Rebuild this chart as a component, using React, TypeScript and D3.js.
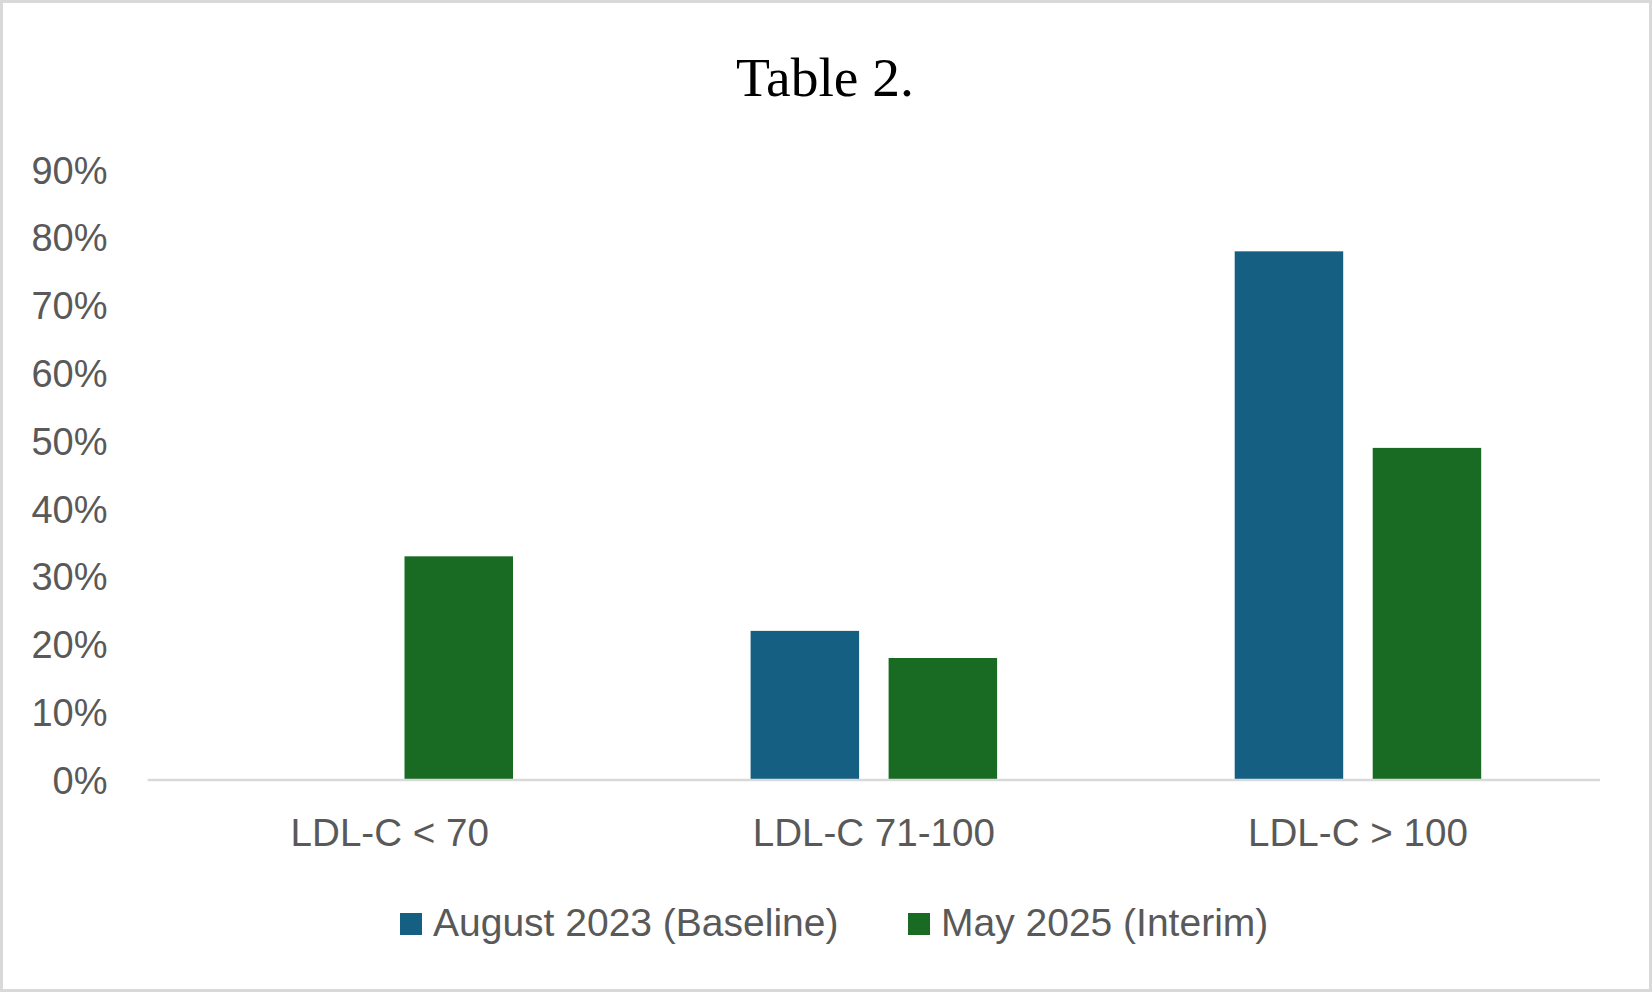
import React, { useEffect } from "react";
import * as d3 from "d3";

const categories = ["LDL-C < 70", "LDL-C 71-100", "LDL-C > 100"];
const seriesNames = ["August 2023 (Baseline)", "May 2025 (Interim)"];
const baselineValues = [0, 0.22, 0.78];
const interimValues = [0.33, 0.18, 0.49];
const yTicks = [0, 0.1, 0.2, 0.3, 0.4, 0.5, 0.6, 0.7, 0.8, 0.9];
const colors = ["#156082", "#196B24"];

const W = 1652;
const H = 992;
const plotLeft = 147.7;
const plotRight = 1600;
const yZero = 780;
const yTop = 170;
const groupHalf = 123.25;

export default function App() {
  useEffect(() => {
    document.body.style.margin = "0";
  }, []);

  const x = d3.scaleBand<string>().domain(categories).range([plotLeft, plotRight]).padding(0);
  const y = d3.scaleLinear().domain([0, 0.9]).range([yZero, yTop]);
  const inner = d3
    .scaleBand<string>()
    .domain(seriesNames)
    .range([-groupHalf, groupHalf])
    .paddingInner(0.2138)
    .paddingOuter(0);
  const series = [baselineValues, interimValues];
  const fmt = d3.format(".0%");
  const sans = "'Liberation Sans', Arial, sans-serif";

  const legendX = [400, 908];

  return (
    <svg width={W} height={H} style={{ display: "block", position: "absolute", left: 0, top: 0 }}>
      <rect x={0} y={0} width={W} height={H} fill="#ffffff" />
      <rect x={1.5} y={1.5} width={W - 3} height={H - 3} fill="none" stroke="#d9d9d9" strokeWidth={3} />
      <text
        x={825}
        y={96}
        textAnchor="middle"
        fontFamily="'Liberation Serif', 'Times New Roman', serif"
        fontSize={55.5}
        fill="#000000"
      >
        Table 2.
      </text>
      {yTicks.map((t) => (
        <text
          key={t}
          x={107.5}
          y={y(t)}
          dy="0.36em"
          textAnchor="end"
          fontFamily={sans}
          fontSize={38}
          fill="#595959"
        >
          {fmt(t)}
        </text>
      ))}
      {series.map((vals, si) =>
        vals.map((v, ci) => {
          if (v <= 0) return null;
          const cx = (x(categories[ci]) as number) + x.bandwidth() / 2;
          const bx = cx + (inner(seriesNames[si]) as number);
          return (
            <rect
              key={`${si}-${ci}`}
              x={bx}
              y={y(v)}
              width={inner.bandwidth()}
              height={y(0) - y(v)}
              fill={colors[si]}
            />
          );
        })
      )}
      <line x1={plotLeft} x2={plotRight} y1={yZero} y2={yZero} stroke="#d9d9d9" strokeWidth={2.5} />
      {categories.map((c) => (
        <text
          key={c}
          x={(x(c) as number) + x.bandwidth() / 2}
          y={846}
          textAnchor="middle"
          fontFamily={sans}
          fontSize={38.6}
          fill="#595959"
        >
          {c}
        </text>
      ))}
      {seriesNames.map((s, i) => (
        <g key={s}>
          <rect x={legendX[i]} y={913} width={22} height={22} fill={colors[i]} />
          <text x={legendX[i] + 33} y={935.5} fontFamily={sans} fontSize={39} fill="#595959">
            {s}
          </text>
        </g>
      ))}
    </svg>
  );
}
